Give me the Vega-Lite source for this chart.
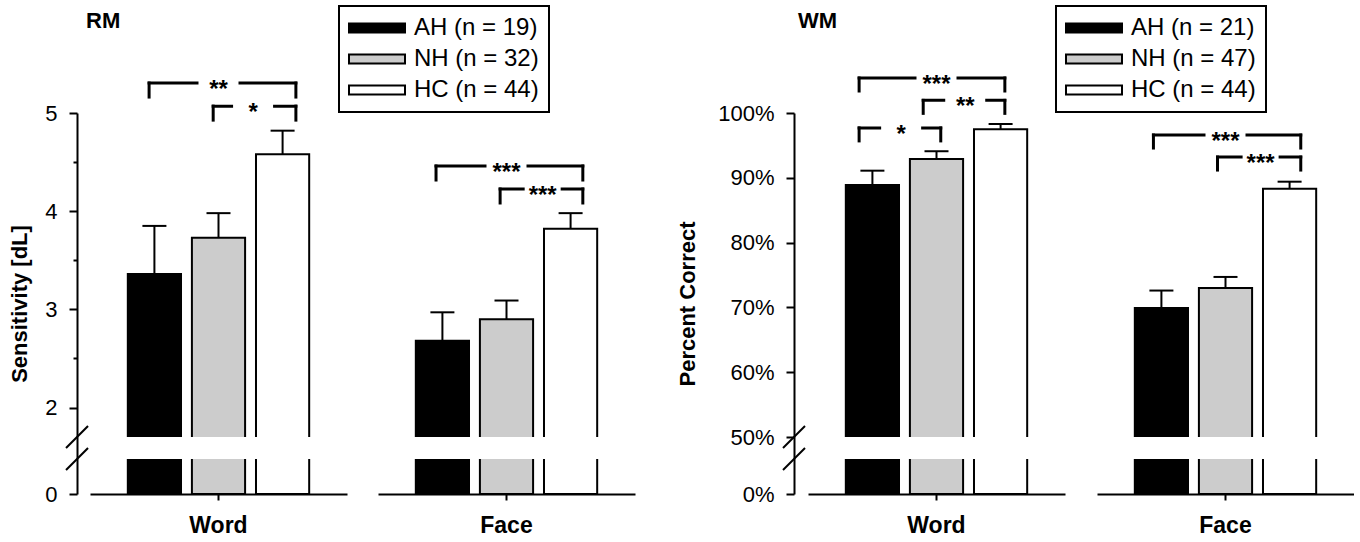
{
  "$schema": "https://vega.github.io/schema/vega-lite/v6.json",
  "padding": {"left": 8, "top": 5, "right": 0, "bottom": 0},
  "background": "white",
  "config": {
    "font": "Liberation Sans",
    "view": {"stroke": null},
    "axis": {"grid": false, "domainColor": "black", "domainWidth": 2, "tickColor": "black", "tickWidth": 2, "labelColor": "black", "titleColor": "black", "labelFontSize": 22, "titleFontSize": 22, "titleFontWeight": "bold"},
    "legend": {"labelFontSize": 24, "labelColor": "black", "labelLimit": 400, "padding": 10, "rowPadding": 7, "symbolSize": 196, "symbolType": "M-1,-0.64H7V0.64H-1Z", "symbolStrokeColor": "black", "symbolStrokeWidth": 2, "symbolOffset": -5, "labelOffset": 46, "strokeColor": "black", "strokeWidth": 2, "symbolOpacity": 1},
    "title": {"fontSize": 22, "fontWeight": "bold", "color": "black", "anchor": "start", "frame": "group"},
    "text": {"fontSize": 24, "fontWeight": "bold", "baseline": "alphabetic", "dy": 14, "color": "black"}
  },
  "datasets": {
    "bars": [
      {"panel": "RM", "cond": "Word", "g": "AH", "label": "AH (n = 19)", "mean": 3.36, "upper": 3.85},
      {"panel": "RM", "cond": "Word", "g": "NH", "label": "NH (n = 32)", "mean": 3.73, "upper": 3.98},
      {"panel": "RM", "cond": "Word", "g": "HC", "label": "HC (n = 44)", "mean": 4.58, "upper": 4.82},
      {"panel": "RM", "cond": "Face", "g": "AH", "label": "AH (n = 19)", "mean": 2.68, "upper": 2.97},
      {"panel": "RM", "cond": "Face", "g": "NH", "label": "NH (n = 32)", "mean": 2.90, "upper": 3.09},
      {"panel": "RM", "cond": "Face", "g": "HC", "label": "HC (n = 44)", "mean": 3.82, "upper": 3.98},
      {"panel": "WM", "cond": "Word", "g": "AH", "label": "AH (n = 21)", "mean": 88.9, "upper": 91.1},
      {"panel": "WM", "cond": "Word", "g": "NH", "label": "NH (n = 47)", "mean": 92.9, "upper": 94.1},
      {"panel": "WM", "cond": "Word", "g": "HC", "label": "HC (n = 44)", "mean": 97.5, "upper": 98.3},
      {"panel": "WM", "cond": "Face", "g": "AH", "label": "AH (n = 21)", "mean": 69.9, "upper": 72.6},
      {"panel": "WM", "cond": "Face", "g": "NH", "label": "NH (n = 47)", "mean": 73.0, "upper": 74.7},
      {"panel": "WM", "cond": "Face", "g": "HC", "label": "HC (n = 44)", "mean": 88.3, "upper": 89.4}
    ],
    "sig": [
      {"panel": "RM", "cond": "Word", "g1": "AH", "g2": "HC", "level": 5.305, "stars": "**"},
      {"panel": "RM", "cond": "Word", "g1": "NH", "g2": "HC", "level": 5.07, "stars": "*"},
      {"panel": "RM", "cond": "Face", "g1": "AH", "g2": "HC", "level": 4.46, "stars": "***"},
      {"panel": "RM", "cond": "Face", "g1": "NH", "g2": "HC", "level": 4.226, "stars": "***"},
      {"panel": "WM", "cond": "Word", "g1": "AH", "g2": "HC", "level": 105.4, "stars": "***"},
      {"panel": "WM", "cond": "Word", "g1": "NH", "g2": "HC", "level": 101.95, "stars": "**"},
      {"panel": "WM", "cond": "Word", "g1": "AH", "g2": "NH", "level": 97.7, "stars": "*"},
      {"panel": "WM", "cond": "Face", "g1": "AH", "g2": "HC", "level": 96.6, "stars": "***"},
      {"panel": "WM", "cond": "Face", "g1": "NH", "g2": "HC", "level": 93.2, "stars": "***"}
    ]
  },
  "spacing": 41,
  "resolve": {"scale": {"color": "independent"}, "legend": {"color": "independent"}},
  "hconcat": [
    {
      "spacing": 31,
      "bounds": "flush",
      "resolve": {"scale": {"color": "independent"}, "legend": {"color": "independent"}},
      "hconcat": [
        {
          "width": 257, "height": 381,
          "title": {"text": "RM", "offset": 45, "dx": -4},
          "layer": [
            {
              "data": {"name": "bars"},
              "transform": [{"filter": "datum.panel == 'RM' && datum.cond == 'Word'"}],
              "layer": [
                {"mark": {"type": "bar", "stroke": "black", "strokeWidth": 2, "opacity": 1},
                 "encoding": {
                   "x": {"field": "g", "type": "nominal", "scale": {"domain": ["AH", "NH", "HC"], "paddingInner": 0.17, "paddingOuter": 0.59}, "axis": {"values": ["NH"], "labelExpr": "'Word'", "title": null, "labelAngle": 0, "labelFontSize": 23, "labelFontWeight": "bold", "tickSize": 6, "labelPadding": 14}},
                   "y": {"field": "mean", "type": "quantitative", "scale": {"domain": [0, 1, 1.7, 5], "range": [381, 346, 324, 0], "nice": false, "zero": false}, "axis": {"title": "Sensitivity [dL]", "values": [0, 2, 2.5, 3, 3.5, 4, 4.5, 5], "labelExpr": "datum.value % 1 ? '' : format(datum.value, 'd')", "tickSize": {"condition": {"test": "datum.value % 1 != 0", "value": 4}, "value": 8}, "offset": 13, "labelPadding": 12, "titlePadding": 13}},
                   "color": {"field": "label", "type": "nominal", "scale": {"domain": ["AH (n = 19)", "NH (n = 32)", "HC (n = 44)"], "range": ["#000000", "#cccccc", "#ffffff"]}, "legend": null}
                 }},
                {"mark": {"type": "rule", "color": "black", "strokeWidth": 2},
                 "encoding": {"x": {"field": "g", "type": "nominal"}, "y": {"field": "mean", "type": "quantitative"}, "y2": {"field": "upper"}}},
                {"mark": {"type": "tick", "color": "black", "size": 24, "thickness": 2, "opacity": 1},
                 "encoding": {"x": {"field": "g", "type": "nominal"}, "y": {"field": "upper", "type": "quantitative"}}}
              ]
            },
            {"data": {"values": [{}]}, "mark": {"type": "rect", "fill": "white", "xOffset": -24},
             "encoding": {"y": {"datum": 1.0, "type": "quantitative"}, "y2": {"datum": 1.7}}},
            {"data": {"values": [{}]}, "mark": {"type": "point", "shape": "M-1,1L1,-1", "filled": false, "stroke": "black", "strokeWidth": 2, "size": 484, "opacity": 1},
             "encoding": {"x": {"datum": "AH", "bandPosition": -0.955}, "y": {"datum": 1.0, "type": "quantitative"}}},
            {"data": {"values": [{}]}, "mark": {"type": "point", "shape": "M-1,1L1,-1", "filled": false, "stroke": "black", "strokeWidth": 2, "size": 484, "opacity": 1},
             "encoding": {"x": {"datum": "AH", "bandPosition": -0.955}, "y": {"datum": 1.7, "type": "quantitative"}}},
            {
              "data": {"name": "sig"},
              "transform": [{"filter": "datum.panel == 'RM' && datum.cond == 'Word'"}],
              "layer": [
                {"mark": {"type": "rule", "color": "black", "strokeWidth": 3, "strokeCap": "square"},
                 "encoding": {"x": {"field": "g1", "type": "nominal", "bandPosition": 0.4}, "x2": {"field": "g2", "bandPosition": 0.75}, "y": {"field": "level", "type": "quantitative"}}},
                {"mark": {"type": "rule", "color": "black", "strokeWidth": 3, "strokeCap": "square", "y2Offset": 14},
                 "encoding": {"x": {"field": "g1", "type": "nominal", "bandPosition": 0.4}, "y": {"field": "level", "type": "quantitative"}, "y2": {"field": "level"}}},
                {"mark": {"type": "rule", "color": "black", "strokeWidth": 3, "strokeCap": "square", "y2Offset": 14},
                 "encoding": {"x": {"field": "g2", "type": "nominal", "bandPosition": 0.75}, "y": {"field": "level", "type": "quantitative"}, "y2": {"field": "level"}}},
                {"transform": [{"filter": "datum.g1 == 'AH' && datum.g2 == 'HC'"}],
                 "mark": {"type": "point", "shape": "M-1,-0.22H1V0.22H-1Z", "size": 1600, "filled": true, "color": "white", "strokeWidth": 0, "opacity": 1},
                 "encoding": {"x": {"datum": "NH"}, "y": {"field": "level", "type": "quantitative"}}},
                {"transform": [{"filter": "!(datum.g1 == 'AH' && datum.g2 == 'HC')"}],
                 "mark": {"type": "point", "shape": "M-1,-0.22H1V0.22H-1Z", "size": 1600, "filled": true, "color": "white", "strokeWidth": 0, "opacity": 1},
                 "encoding": {"x": {"field": "g1", "type": "nominal", "bandPosition": 1.15}, "y": {"field": "level", "type": "quantitative"}}},
                {"transform": [{"filter": "datum.g1 == 'AH' && datum.g2 == 'HC'"}],
                 "mark": {"type": "text"},
                 "encoding": {"x": {"datum": "NH"}, "y": {"field": "level", "type": "quantitative"}, "text": {"field": "stars"}}},
                {"transform": [{"filter": "!(datum.g1 == 'AH' && datum.g2 == 'HC')"}],
                 "mark": {"type": "text"},
                 "encoding": {"x": {"field": "g1", "type": "nominal", "bandPosition": 1.15}, "y": {"field": "level", "type": "quantitative"}, "text": {"field": "stars"}}}
              ]
            }
          ]
        },
        {
          "width": 257, "height": 381,
          "layer": [
            {
              "data": {"name": "bars"},
              "transform": [{"filter": "datum.panel == 'RM' && datum.cond == 'Face'"}],
              "layer": [
                {"mark": {"type": "bar", "stroke": "black", "strokeWidth": 2, "opacity": 1},
                 "encoding": {
                   "x": {"field": "g", "type": "nominal", "scale": {"domain": ["AH", "NH", "HC"], "paddingInner": 0.17, "paddingOuter": 0.59}, "axis": {"values": ["NH"], "labelExpr": "'Face'", "title": null, "labelAngle": 0, "labelFontSize": 23, "labelFontWeight": "bold", "tickSize": 6, "labelPadding": 14}},
                   "y": {"field": "mean", "type": "quantitative", "scale": {"domain": [0, 1, 1.7, 5], "range": [381, 346, 324, 0], "nice": false, "zero": false}, "axis": null},
                   "color": {"field": "label", "type": "nominal", "scale": {"domain": ["AH (n = 19)", "NH (n = 32)", "HC (n = 44)"], "range": ["#000000", "#cccccc", "#ffffff"]}, "legend": {"orient": "none", "legendX": -39, "legendY": -107, "title": null}}
                 }},
                {"mark": {"type": "rule", "color": "black", "strokeWidth": 2},
                 "encoding": {"x": {"field": "g", "type": "nominal"}, "y": {"field": "mean", "type": "quantitative", "axis": null}, "y2": {"field": "upper"}}},
                {"mark": {"type": "tick", "color": "black", "size": 24, "thickness": 2, "opacity": 1},
                 "encoding": {"x": {"field": "g", "type": "nominal"}, "y": {"field": "upper", "type": "quantitative", "axis": null}}}
              ]
            },
            {"data": {"values": [{}]}, "mark": {"type": "rect", "fill": "white"},
             "encoding": {"y": {"datum": 1.0, "type": "quantitative", "axis": null}, "y2": {"datum": 1.7}}},
            {
              "data": {"name": "sig"},
              "transform": [{"filter": "datum.panel == 'RM' && datum.cond == 'Face'"}],
              "layer": [
                {"mark": {"type": "rule", "color": "black", "strokeWidth": 3, "strokeCap": "square"},
                 "encoding": {"x": {"field": "g1", "type": "nominal", "bandPosition": 0.38}, "x2": {"field": "g2", "bandPosition": 0.73}, "y": {"field": "level", "type": "quantitative", "axis": null}}},
                {"mark": {"type": "rule", "color": "black", "strokeWidth": 3, "strokeCap": "square", "y2Offset": 14},
                 "encoding": {"x": {"field": "g1", "type": "nominal", "bandPosition": 0.38}, "y": {"field": "level", "type": "quantitative", "axis": null}, "y2": {"field": "level"}}},
                {"mark": {"type": "rule", "color": "black", "strokeWidth": 3, "strokeCap": "square", "y2Offset": 14},
                 "encoding": {"x": {"field": "g2", "type": "nominal", "bandPosition": 0.73}, "y": {"field": "level", "type": "quantitative", "axis": null}, "y2": {"field": "level"}}},
                {"transform": [{"filter": "datum.g1 == 'AH' && datum.g2 == 'HC'"}],
                 "mark": {"type": "point", "shape": "M-1,-0.22H1V0.22H-1Z", "size": 1600, "filled": true, "color": "white", "strokeWidth": 0, "opacity": 1},
                 "encoding": {"x": {"datum": "NH"}, "y": {"field": "level", "type": "quantitative", "axis": null}}},
                {"transform": [{"filter": "!(datum.g1 == 'AH' && datum.g2 == 'HC')"}],
                 "mark": {"type": "point", "shape": "M-1,-0.22H1V0.22H-1Z", "size": 1296, "filled": true, "color": "white", "strokeWidth": 0, "opacity": 1},
                 "encoding": {"x": {"field": "g1", "type": "nominal", "bandPosition": 1.18}, "y": {"field": "level", "type": "quantitative", "axis": null}}},
                {"transform": [{"filter": "datum.g1 == 'AH' && datum.g2 == 'HC'"}],
                 "mark": {"type": "text"},
                 "encoding": {"x": {"datum": "NH"}, "y": {"field": "level", "type": "quantitative", "axis": null}, "text": {"field": "stars"}}},
                {"transform": [{"filter": "!(datum.g1 == 'AH' && datum.g2 == 'HC')"}],
                 "mark": {"type": "text"},
                 "encoding": {"x": {"field": "g1", "type": "nominal", "bandPosition": 1.18}, "y": {"field": "level", "type": "quantitative", "axis": null}, "text": {"field": "stars"}}}
              ]
            }
          ]
        }
      ]
    },
    {
      "spacing": 32,
      "bounds": "flush",
      "resolve": {"scale": {"color": "independent"}, "legend": {"color": "independent"}},
      "hconcat": [
        {
          "width": 257, "height": 381,
          "title": {"text": "WM", "offset": 40, "dx": -10},
          "layer": [
            {
              "data": {"name": "bars"},
              "transform": [{"filter": "datum.panel == 'WM' && datum.cond == 'Word'"}],
              "layer": [
                {"mark": {"type": "bar", "stroke": "black", "strokeWidth": 2, "opacity": 1},
                 "encoding": {
                   "x": {"field": "g", "type": "nominal", "scale": {"domain": ["AH", "NH", "HC"], "paddingInner": 0.17, "paddingOuter": 0.59}, "axis": {"values": ["NH"], "labelExpr": "'Word'", "title": null, "labelAngle": 0, "labelFontSize": 23, "labelFontWeight": "bold", "tickSize": 6, "labelPadding": 14}},
                   "y": {"field": "mean", "type": "quantitative", "scale": {"domain": [0, 20, 50, 100], "range": [381, 346, 324, 0], "nice": false, "zero": false}, "axis": {"title": "Percent Correct", "values": [0, 50, 60, 70, 80, 90, 100], "labelExpr": "datum.value + '%'", "tickSize": 8, "offset": 14, "labelPadding": 12, "titlePadding": 18}},
                   "color": {"field": "label", "type": "nominal", "scale": {"domain": ["AH (n = 21)", "NH (n = 47)", "HC (n = 44)"], "range": ["#000000", "#cccccc", "#ffffff"]}, "legend": null}
                 }},
                {"mark": {"type": "rule", "color": "black", "strokeWidth": 2},
                 "encoding": {"x": {"field": "g", "type": "nominal"}, "y": {"field": "mean", "type": "quantitative"}, "y2": {"field": "upper"}}},
                {"mark": {"type": "tick", "color": "black", "size": 24, "thickness": 2, "opacity": 1},
                 "encoding": {"x": {"field": "g", "type": "nominal"}, "y": {"field": "upper", "type": "quantitative"}}}
              ]
            },
            {"data": {"values": [{}]}, "mark": {"type": "rect", "fill": "white", "xOffset": -24},
             "encoding": {"y": {"datum": 20, "type": "quantitative"}, "y2": {"datum": 50}}},
            {"data": {"values": [{}]}, "mark": {"type": "point", "shape": "M-1,1L1,-1", "filled": false, "stroke": "black", "strokeWidth": 2, "size": 484, "opacity": 1},
             "encoding": {"x": {"datum": "AH", "bandPosition": -0.974}, "y": {"datum": 20, "type": "quantitative"}}},
            {"data": {"values": [{}]}, "mark": {"type": "point", "shape": "M-1,1L1,-1", "filled": false, "stroke": "black", "strokeWidth": 2, "size": 484, "opacity": 1},
             "encoding": {"x": {"datum": "AH", "bandPosition": -0.974}, "y": {"datum": 50, "type": "quantitative"}}},
            {
              "data": {"name": "sig"},
              "transform": [{"filter": "datum.panel == 'WM' && datum.cond == 'Word'"}],
              "layer": [
                {"mark": {"type": "rule", "color": "black", "strokeWidth": 3, "strokeCap": "square"},
                 "encoding": {"x": {"field": "g1", "type": "nominal", "bandPosition": 0.25}, "x2": {"field": "g2", "bandPosition": 0.58}, "y": {"field": "level", "type": "quantitative"}}},
                {"mark": {"type": "rule", "color": "black", "strokeWidth": 3, "strokeCap": "square", "y2Offset": 13},
                 "encoding": {"x": {"field": "g1", "type": "nominal", "bandPosition": 0.25}, "y": {"field": "level", "type": "quantitative"}, "y2": {"field": "level"}}},
                {"mark": {"type": "rule", "color": "black", "strokeWidth": 3, "strokeCap": "square", "y2Offset": 13},
                 "encoding": {"x": {"field": "g2", "type": "nominal", "bandPosition": 0.58}, "y": {"field": "level", "type": "quantitative"}, "y2": {"field": "level"}}},
                {"transform": [{"filter": "datum.g1 == 'AH' && datum.g2 == 'HC'"}],
                 "mark": {"type": "point", "shape": "M-1,-0.22H1V0.22H-1Z", "size": 1600, "filled": true, "color": "white", "strokeWidth": 0, "opacity": 1},
                 "encoding": {"x": {"datum": "NH"}, "y": {"field": "level", "type": "quantitative"}}},
                {"transform": [{"filter": "!(datum.g1 == 'AH' && datum.g2 == 'HC')"}],
                 "mark": {"type": "point", "shape": "M-1,-0.22H1V0.22H-1Z", "size": 1600, "filled": true, "color": "white", "strokeWidth": 0, "opacity": 1},
                 "encoding": {"x": {"field": "g1", "type": "nominal", "bandPosition": 1.04}, "y": {"field": "level", "type": "quantitative"}}},
                {"transform": [{"filter": "datum.g1 == 'AH' && datum.g2 == 'HC'"}],
                 "mark": {"type": "text"},
                 "encoding": {"x": {"datum": "NH"}, "y": {"field": "level", "type": "quantitative"}, "text": {"field": "stars"}}},
                {"transform": [{"filter": "!(datum.g1 == 'AH' && datum.g2 == 'HC')"}],
                 "mark": {"type": "text"},
                 "encoding": {"x": {"field": "g1", "type": "nominal", "bandPosition": 1.04}, "y": {"field": "level", "type": "quantitative"}, "text": {"field": "stars"}}}
              ]
            }
          ]
        },
        {
          "width": 257, "height": 381,
          "layer": [
            {
              "data": {"name": "bars"},
              "transform": [{"filter": "datum.panel == 'WM' && datum.cond == 'Face'"}],
              "layer": [
                {"mark": {"type": "bar", "stroke": "black", "strokeWidth": 2, "opacity": 1},
                 "encoding": {
                   "x": {"field": "g", "type": "nominal", "scale": {"domain": ["AH", "NH", "HC"], "paddingInner": 0.17, "paddingOuter": 0.59}, "axis": {"values": ["NH"], "labelExpr": "'Face'", "title": null, "labelAngle": 0, "labelFontSize": 23, "labelFontWeight": "bold", "tickSize": 6, "labelPadding": 14}},
                   "y": {"field": "mean", "type": "quantitative", "scale": {"domain": [0, 20, 50, 100], "range": [381, 346, 324, 0], "nice": false, "zero": false}, "axis": null},
                   "color": {"field": "label", "type": "nominal", "scale": {"domain": ["AH (n = 21)", "NH (n = 47)", "HC (n = 44)"], "range": ["#000000", "#cccccc", "#ffffff"]}, "legend": {"orient": "none", "legendX": -41, "legendY": -107, "title": null}}
                 }},
                {"mark": {"type": "rule", "color": "black", "strokeWidth": 2},
                 "encoding": {"x": {"field": "g", "type": "nominal"}, "y": {"field": "mean", "type": "quantitative", "axis": null}, "y2": {"field": "upper"}}},
                {"mark": {"type": "tick", "color": "black", "size": 24, "thickness": 2, "opacity": 1},
                 "encoding": {"x": {"field": "g", "type": "nominal"}, "y": {"field": "upper", "type": "quantitative", "axis": null}}}
              ]
            },
            {"data": {"values": [{}]}, "mark": {"type": "rect", "fill": "white"},
             "encoding": {"y": {"datum": 20, "type": "quantitative", "axis": null}, "y2": {"datum": 50}}},
            {
              "data": {"name": "sig"},
              "transform": [{"filter": "datum.panel == 'WM' && datum.cond == 'Face'"}],
              "layer": [
                {"mark": {"type": "rule", "color": "black", "strokeWidth": 3, "strokeCap": "square"},
                 "encoding": {"x": {"field": "g1", "type": "nominal", "bandPosition": 0.35}, "x2": {"field": "g2", "bandPosition": 0.71}, "y": {"field": "level", "type": "quantitative", "axis": null}}},
                {"mark": {"type": "rule", "color": "black", "strokeWidth": 3, "strokeCap": "square", "y2Offset": 13},
                 "encoding": {"x": {"field": "g1", "type": "nominal", "bandPosition": 0.35}, "y": {"field": "level", "type": "quantitative", "axis": null}, "y2": {"field": "level"}}},
                {"mark": {"type": "rule", "color": "black", "strokeWidth": 3, "strokeCap": "square", "y2Offset": 13},
                 "encoding": {"x": {"field": "g2", "type": "nominal", "bandPosition": 0.71}, "y": {"field": "level", "type": "quantitative", "axis": null}, "y2": {"field": "level"}}},
                {"transform": [{"filter": "datum.g1 == 'AH' && datum.g2 == 'HC'"}],
                 "mark": {"type": "point", "shape": "M-1,-0.22H1V0.22H-1Z", "size": 1600, "filled": true, "color": "white", "strokeWidth": 0, "opacity": 1},
                 "encoding": {"x": {"datum": "NH"}, "y": {"field": "level", "type": "quantitative", "axis": null}}},
                {"transform": [{"filter": "!(datum.g1 == 'AH' && datum.g2 == 'HC')"}],
                 "mark": {"type": "point", "shape": "M-1,-0.22H1V0.22H-1Z", "size": 1296, "filled": true, "color": "white", "strokeWidth": 0, "opacity": 1},
                 "encoding": {"x": {"field": "g1", "type": "nominal", "bandPosition": 1.16}, "y": {"field": "level", "type": "quantitative", "axis": null}}},
                {"transform": [{"filter": "datum.g1 == 'AH' && datum.g2 == 'HC'"}],
                 "mark": {"type": "text"},
                 "encoding": {"x": {"datum": "NH"}, "y": {"field": "level", "type": "quantitative", "axis": null}, "text": {"field": "stars"}}},
                {"transform": [{"filter": "!(datum.g1 == 'AH' && datum.g2 == 'HC')"}],
                 "mark": {"type": "text"},
                 "encoding": {"x": {"field": "g1", "type": "nominal", "bandPosition": 1.16}, "y": {"field": "level", "type": "quantitative", "axis": null}, "text": {"field": "stars"}}}
              ]
            }
          ]
        }
      ]
    }
  ]
}
